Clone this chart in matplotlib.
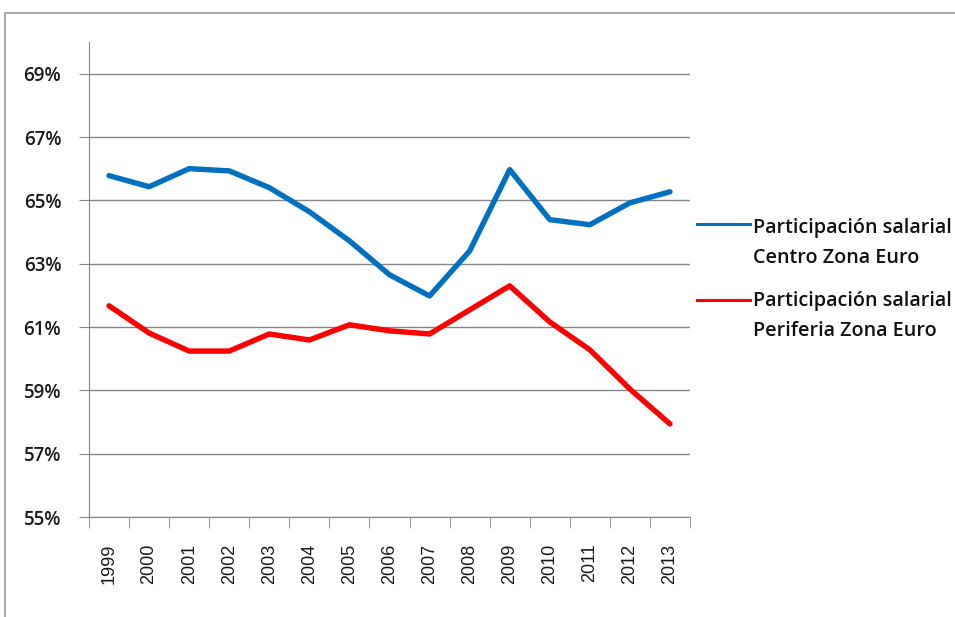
import matplotlib
matplotlib.use("Agg")
import matplotlib.pyplot as plt
from matplotlib.lines import Line2D
from matplotlib.patches import Rectangle
import numpy as np

years = ["1999", "2000", "2001", "2002", "2003", "2004", "2005", "2006",
         "2007", "2008", "2009", "2010", "2011", "2012", "2013"]
centro = [65.78, 65.43, 66.00, 65.93, 65.40, 64.64, 63.72, 62.65,
          61.98, 63.40, 65.97, 64.39, 64.23, 64.92, 65.27]
periferia = [61.67, 60.81, 60.24, 60.24, 60.78, 60.59, 61.07, 60.88,
             60.78, 61.54, 62.30, 61.16, 60.28, 59.04, 57.94]
yticks = [55, 57, 59, 61, 63, 65, 67, 69]
labels = [["Participación salarial", "Centro Zona Euro"],
          ["Participación salarial", "Periferia Zona Euro"]]
colors = ["#0070C0", "#FF0000"]

fig = plt.figure(figsize=(9.55, 6.17), dpi=100)
ax = fig.add_axes([89/955, 1 - 517/617, 601/955, 475/617])

x = np.arange(len(years))
ax.plot(x, centro, color=colors[0], lw=3.9, solid_joinstyle="round", solid_capstyle="round")
ax.plot(x, periferia, color=colors[1], lw=3.9, solid_joinstyle="round", solid_capstyle="round")

ax.set_xlim(-0.5, len(years) - 0.5)
ax.set_ylim(55, 70)
ax.set_yticks(yticks)
ax.set_yticklabels([f"{v}%" for v in yticks], fontsize=13.5, family="Open Sans",
                   color="#1a1a1a", fontweight="semibold")
ax.set_xticks(x)
ax.set_xticklabels(years, rotation=90, fontsize=13, family="Liberation Sans", color="#1a1a1a")
ax.set_xticks(np.arange(-0.5, len(years)), minor=True)
ax.tick_params(axis="x", which="major", length=0, pad=19)
ax.tick_params(axis="x", which="minor", length=8, color="#868686")
ax.tick_params(axis="y", length=7, color="#868686", pad=13)
ax.grid(axis="y", color="#868686", lw=1)
ax.set_axisbelow(True)
for s in ["top", "right"]:
    ax.spines[s].set_visible(False)
for s in ["left", "bottom"]:
    ax.spines[s].set_color("#868686")

# legend (Excel style: swatch next to first line)
for i, (lab, c) in enumerate(zip(labels, colors)):
    yline = 1 - (224 + i * 76) / 617
    fig.add_artist(Line2D([697/955, 750/955], [yline, yline], color=c, lw=2.2))
    for j, t in enumerate(lab):
        yb = 1 - (233 + i * 73 + j * 30) / 617
        fig.text(753/955, yb, t, fontsize=14.2, family="Open Sans", va="baseline",
                 ha="left", color="#111111", fontweight="semibold")

# outer frame
fig.add_artist(Rectangle((5/955, -0.05), 1.2, 1 - 13/617 + 0.05,
                         transform=fig.transFigure, fill=False,
                         edgecolor="#999999", lw=1.2))

fig.savefig("out.png", dpi=100)
